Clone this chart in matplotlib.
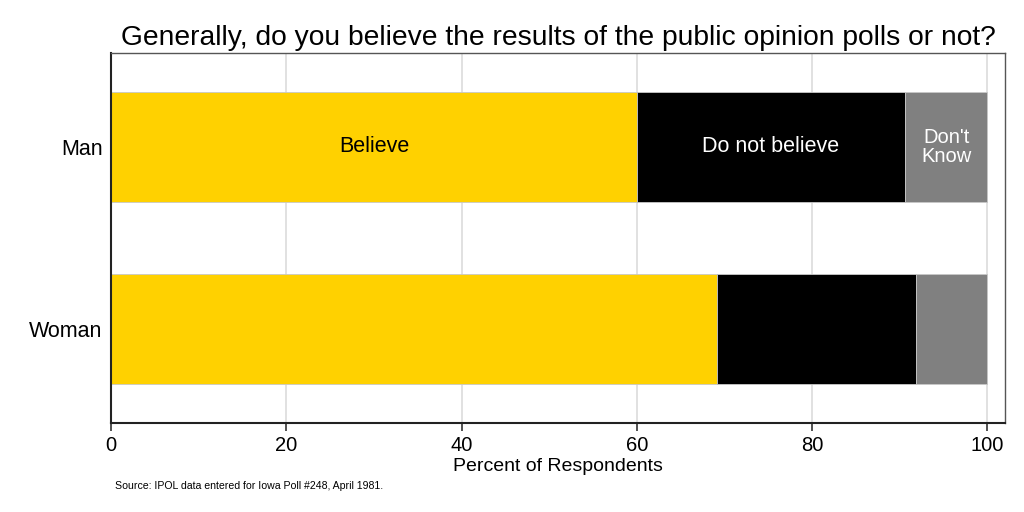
import matplotlib
matplotlib.use("Agg")
import matplotlib.pyplot as plt
import numpy as np

# ---------------------------------------------------------------------------
# Data
# ---------------------------------------------------------------------------
groups = ["Man", "Woman"]
responses = ["Believe", "Do not believe", "Don't\nKnow"]
believe = [60.0, 69.2]
not_believe = [30.6, 22.6]
dont_know = [9.4, 8.2]

colors = ["#FFD100", "#000000", "#808080"]
label_colors = ["black", "white", "white"]

plt.rcParams["font.family"] = ["Liberation Sans", "DejaVu Sans"]

fig = plt.figure(figsize=(10.24, 5.12), dpi=100)
ax = fig.add_axes([0.1084, 0.1738, 0.873, 0.7227])

ypos = np.arange(len(groups))
left = np.zeros(len(groups))
series = [believe, not_believe, dont_know]
for vals, col, lab, lcol in zip(series, colors, responses, label_colors):
    vals = np.array(vals)
    ax.barh(ypos, vals, left=left, height=0.6, color=col,
            edgecolor="#c8c8c8", linewidth=0.6, zorder=2)
    # label segments only on the first row
    ax.text(left[0] + vals[0] / 2, ypos[0], lab, ha="center", va="center",
            color=lcol, fontsize=15.5 if "\n" not in lab else 14.5,
            linespacing=0.95, zorder=3)
    left = left + vals

ax.set_xlim(0, 102)
ax.set_ylim(1.516, -0.516)
ax.set_yticks(ypos)
ax.set_yticklabels(groups, fontsize=15.5)
ax.set_xticks([0, 20, 40, 60, 80, 100])
ax.tick_params(axis="x", labelsize=14.5, length=6, width=1.2, color="#333333")
ax.tick_params(axis="y", length=0, pad=6)
ax.grid(axis="x", color="#dcdcdc", linewidth=1.2, zorder=0)
ax.set_axisbelow(True)

for side in ["left", "bottom"]:
    ax.spines[side].set_linewidth(1.5)
    ax.spines[side].set_color("#222222")
for side in ["top", "right"]:
    ax.spines[side].set_linewidth(1.0)
    ax.spines[side].set_color("#555555")

ax.set_xlabel("Percent of Respondents", fontsize=14, labelpad=2)
ax.set_title("Generally, do you believe the results of the public opinion polls or not?",
             fontsize=20.3, pad=6)
fig.text(115 / 1024, 1 - 486 / 512, "Source: IPOL data entered for Iowa Poll #248, April 1981.",
         fontsize=7.6, va="center", ha="left")

fig.savefig("out.png", dpi=100)
